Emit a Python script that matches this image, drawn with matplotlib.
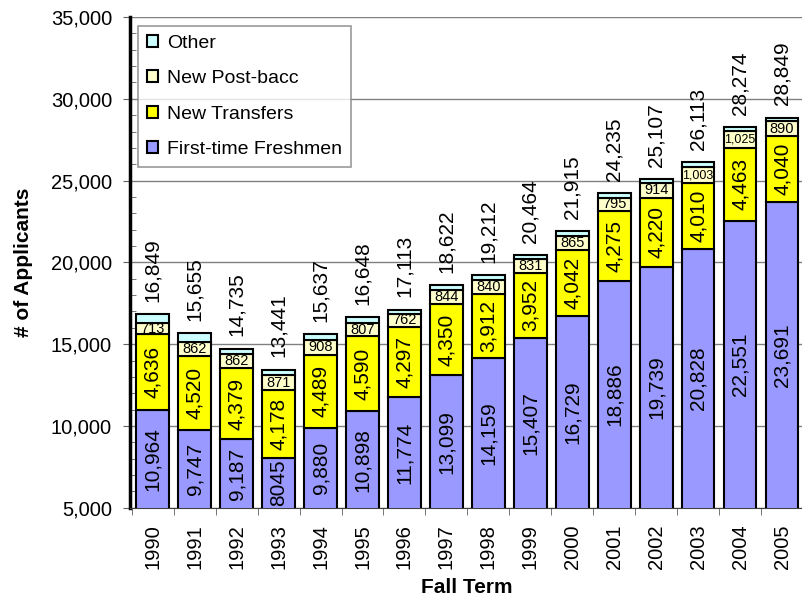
import numpy as np
import matplotlib
matplotlib.use('Agg')
from matplotlib import pyplot as plt

plt.rcParams['font.family'] = ['Liberation Sans', 'DejaVu Sans']

years = ['1990', '1991', '1992', '1993', '1994', '1995', '1996', '1997',
         '1998', '1999', '2000', '2001', '2002', '2003', '2004', '2005']
freshmen = [10964, 9747, 9187, 8045, 9880, 10898, 11774, 13099,
            14159, 15407, 16729, 18886, 19739, 20828, 22551, 23691]
transfers = [4636, 4520, 4379, 4178, 4489, 4590, 4297, 4350,
             3912, 3952, 4042, 4275, 4220, 4010, 4463, 4040]
postbacc = [713, 862, 862, 871, 908, 807, 762, 844,
            840, 831, 865, 795, 914, 1003, 1025, 890]
other = [536, 526, 307, 347, 360, 353, 280, 329,
         301, 274, 279, 279, 234, 272, 235, 228]
totals = [16849, 15655, 14735, 13441, 15637, 16648, 17113, 18622,
          19212, 20464, 21915, 24235, 25107, 26113, 28274, 28849]
fresh_labels = ['10,964', '9,747', '9,187', '8045', '9,880', '10,898', '11,774', '13,099',
                '14,159', '15,407', '16,729', '18,886', '19,739', '20,828', '22,551', '23,691']

c_fresh = '#9999ff'
c_trans = '#ffff00'
c_post = '#ffffcc'
c_other = '#ccffff'

fig = plt.figure(figsize=(8.03, 6.06), dpi=100)
ax = fig.add_axes([0.162, 0.162, 0.838, 0.81])

x = np.arange(len(years))
w = 0.78
f = np.array(freshmen)
t = np.array(transfers)
p = np.array(postbacc)
o = np.array(other)

b1 = ax.bar(x, f, w, color=c_fresh, edgecolor='black', linewidth=1.5, label='First-time Freshmen', zorder=3)
b2 = ax.bar(x, t, w, bottom=f, color=c_trans, edgecolor='black', linewidth=1.5, label='New Transfers', zorder=3)
b3 = ax.bar(x, p, w, bottom=f + t, color=c_post, edgecolor='black', linewidth=1.5, label='New Post-bacc', zorder=3)
b4 = ax.bar(x, o, w, bottom=f + t + p, color=c_other, edgecolor='black', linewidth=1.5, label='Other', zorder=3)

for i in range(len(years)):
    # freshmen label centred on the visible part (axis starts at 5,000)
    ax.text(x[i], (5000 + f[i]) / 2, fresh_labels[i], rotation=90, ha='center', va='center', fontsize=15, zorder=4)
    ax.text(x[i], f[i] + t[i] / 2, f'{transfers[i]:,}', rotation=90, ha='center', va='center', fontsize=15, zorder=4)
    ax.text(x[i], f[i] + t[i] + p[i] / 2, f'{postbacc[i]:,}', ha='center', va='center',
            fontsize=9 if postbacc[i] >= 1000 else 10.5, zorder=4)
    ax.text(x[i], totals[i] + 750, f'{totals[i]:,}', rotation=90, ha='center', va='bottom', fontsize=15, zorder=4)

ax.set_ylim(5000, 35000)
ax.set_xlim(-0.54, 15.3)
ax.set_yticks(np.arange(5000, 35001, 5000))
ax.set_yticklabels([f'{v:,}' for v in range(5000, 35001, 5000)], fontsize=14.5)
ax.set_yticks(np.arange(5000, 35001, 1000), minor=True)
ax.yaxis.grid(True, color='#808080', linewidth=1, zorder=0)
ax.set_xticks(x)
ax.set_xticklabels(years, rotation=90, fontsize=14.5)
ax.set_xticks(np.arange(-0.5, 15.6, 1), minor=True)
ax.tick_params(axis='x', which='major', length=0, pad=12)
ax.tick_params(axis='x', which='minor', length=5, color='#606060')
ax.tick_params(axis='y', which='minor', length=4, direction='in', color='#606060')
ax.tick_params(axis='y', which='major', length=5, pad=8, color='#606060')
for s in ['top', 'right']:
    ax.spines[s].set_visible(False)
ax.spines['left'].set_linewidth(2.5)
ax.spines['bottom'].set_color('#404040')

ax.set_ylabel('# of Applicants', fontsize=15, fontweight='bold', labelpad=13)
ax.set_xlabel('Fall Term', fontsize=15, fontweight='bold', labelpad=6)

leg = ax.legend(handles=[b4, b3, b2, b1], loc='upper left', bbox_to_anchor=(0.006, 0.99),
                fontsize=14, frameon=True, fancybox=False, edgecolor='#808080',
                handlelength=0.6, handleheight=0.6, labelspacing=0.95, borderpad=0.45,
                handletextpad=0.45, borderaxespad=0.2)
leg.get_frame().set_linewidth(1.2)
leg.set_zorder(5)

fig.savefig('out.png', dpi=100)
